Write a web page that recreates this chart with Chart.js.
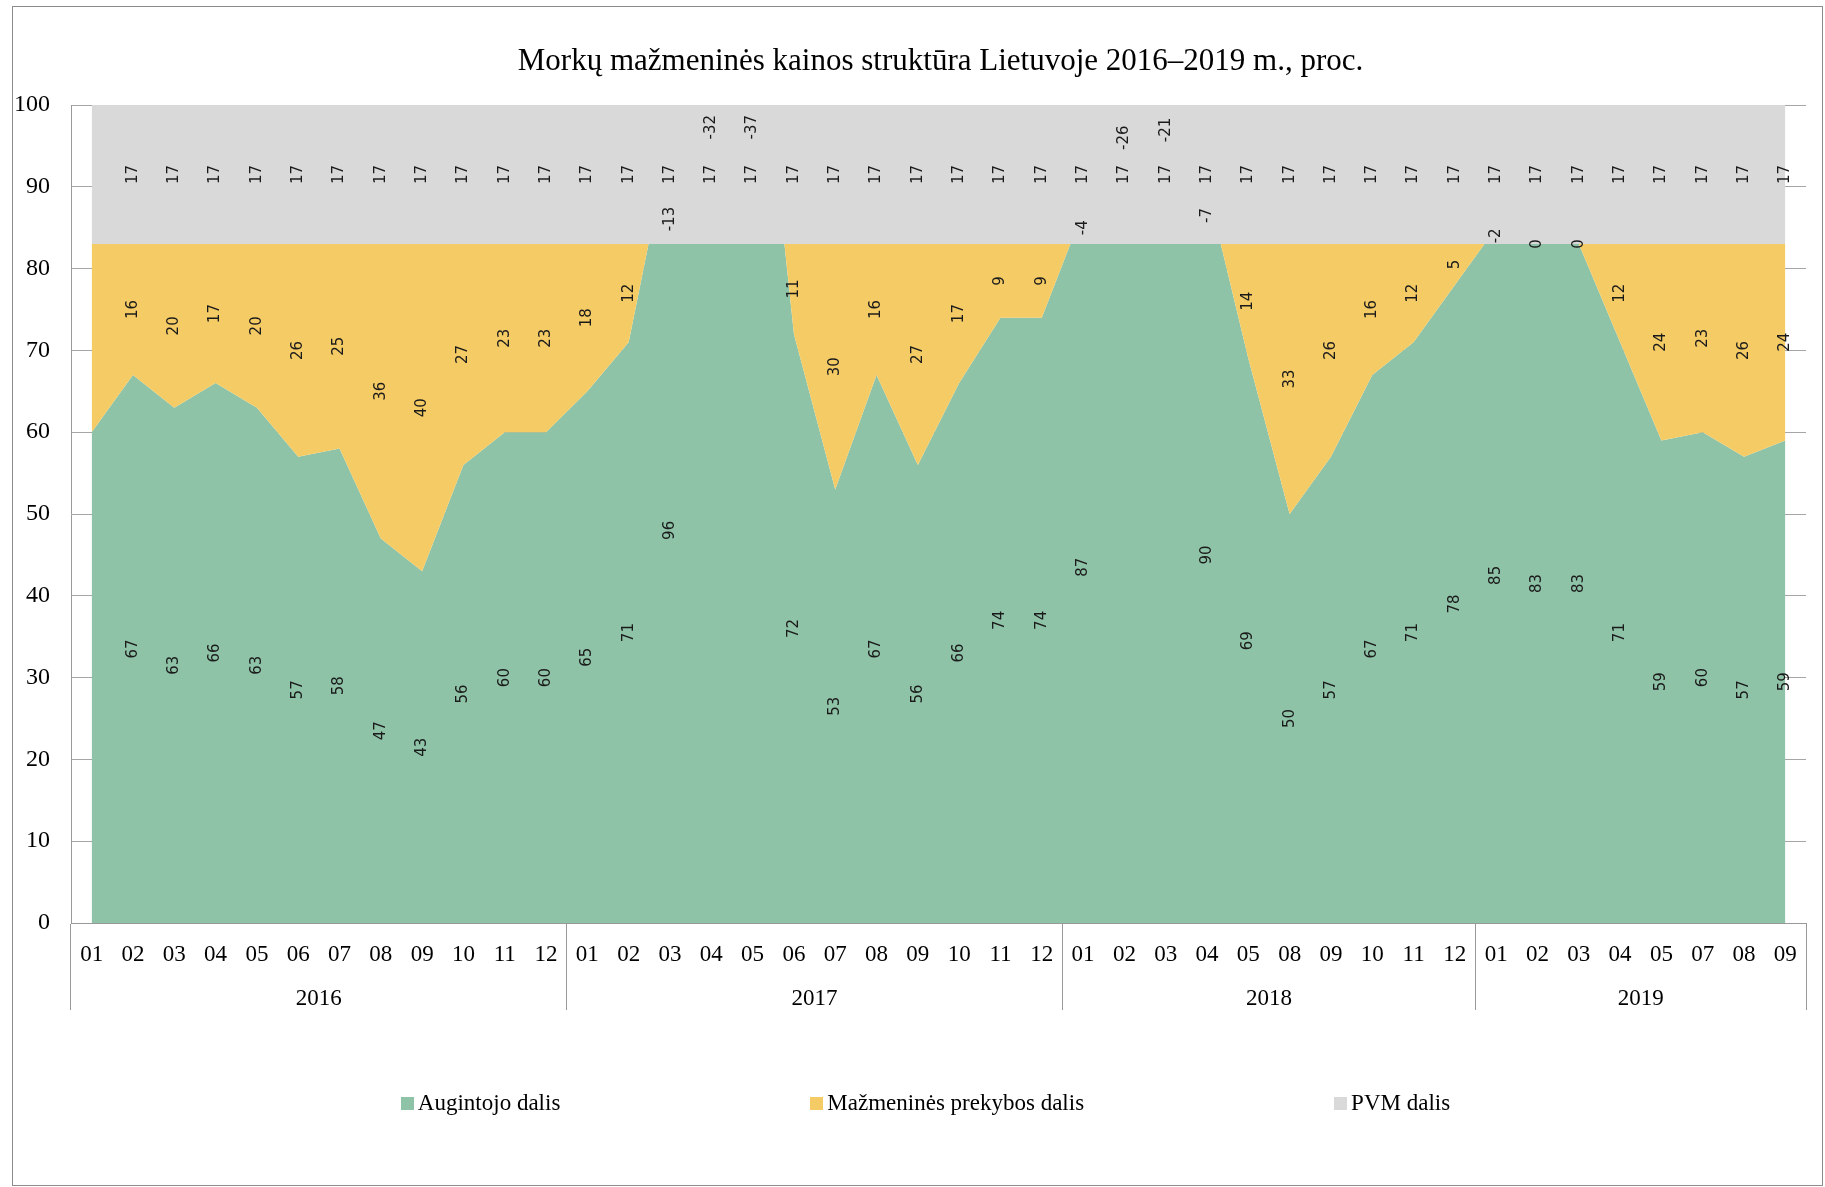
<!DOCTYPE html>
<html>
<head>
<meta charset="utf-8">
<title>Morkų mažmeninės kainos struktūra</title>
<script src="https://cdn.jsdelivr.net/npm/chart.js@4"></script>
<style>
  html, body { margin: 0; padding: 0; background: #fff; }
  canvas { display: block; }
</style>
</head>
<body>
<canvas id="chart" width="1825" height="1187"></canvas>
<script>
// Chart title and series names
const chartTitle = 'Morkų mažmeninės kainos struktūra Lietuvoje 2016–2019 m., proc.';
const seriesNames = ['Augintojo dalis', 'Mažmeninės prekybos dalis', 'PVM dalis'];

// Years and how many monthly observations each year has
const years = ['2016', '2017', '2018', '2019'];
const yearSpans = [12, 12, 10, 8];

// Month labels (category axis)
const months = [
  '01', '02', '03', '04', '05', '06', '07', '08', '09', '10', '11', '12',
  '01', '02', '03', '04', '05', '06', '07', '08', '09', '10', '11', '12',
  '01', '02', '03', '04', '05', '08', '09', '10', '11', '12',
  '01', '02', '03', '04', '05', '07', '08', '09'
];

// Grower share, %
const grower = [
  60, 67, 63, 66, 63, 57, 58, 47, 43, 56, 60, 60,
  65, 71, 96, 115, 120, 72, 53, 67, 56, 66, 74, 74,
  87, 109, 104, 90, 69, 50, 57, 67, 71, 78,
  85, 83, 83, 71, 59, 60, 57, 59
];

// Retail trade share, %
const retail = [
  23, 16, 20, 17, 20, 26, 25, 36, 40, 27, 23, 23,
  18, 12, -13, -32, -37, 11, 30, 16, 27, 17, 9, 9,
  -4, -26, -21, -7, 14, 33, 26, 16, 12, 5,
  -2, 0, 0, 12, 24, 23, 26, 24
];

// VAT share, %
const vat = [
  17, 17, 17, 17, 17, 17, 17, 17, 17, 17, 17, 17,
  17, 17, 17, 17, 17, 17, 17, 17, 17, 17, 17, 17,
  17, 17, 17, 17, 17, 17, 17, 17, 17, 17,
  17, 17, 17, 17, 17, 17, 17, 17
];

const colors = ['#8ec3a7', '#f5cb65', '#d9d9d9'];
const serif = '"Liberation Serif", "Times New Roman", serif';
const axisFontSize = 23;

// Stack the shares one on top of another (Excel-style single stack, negatives subtract)
const parts = [grower, retail, vat];
const stackTop = parts.map((_, d) =>
  months.map((_, i) => parts.slice(0, d + 1).reduce((s, arr) => s + arr[i], 0))
);

// Where each year starts on the category axis, and the middle of each year group
const yearStarts = [];
const yearMid = [];
yearSpans.reduce((start, n) => {
  yearStarts.push(start);
  yearMid.push(start + (n - 1) / 2);
  return start + n;
}, 0);

// White page with a thin frame around the whole chart
const framePlugin = {
  id: 'frame',
  beforeDraw(chart) {
    const c = chart.ctx;
    c.save();
    c.fillStyle = '#fff';
    c.fillRect(0, 0, chart.width, chart.height);
    c.strokeStyle = '#8c8c8c';
    c.lineWidth = 1;
    c.strokeRect(12.5, 6.5, chart.width - 15, chart.height - 8);
    c.restore();
  }
};

// Title centred over the plot area
const titlePlugin = {
  id: 'plotTitle',
  afterDraw(chart) {
    const c = chart.ctx;
    const a = chart.chartArea;
    c.save();
    c.font = '31px ' + serif;
    c.fillStyle = '#000';
    c.textAlign = 'center';
    c.textBaseline = 'middle';
    c.fillText(chartTitle, (a.left + a.right) / 2 + 2, 62);
    c.restore();
  }
};

// Vertical value labels in the middle of each stacked segment
const valueLabels = {
  id: 'valueLabels',
  afterDatasetsDraw(chart) {
    const c = chart.ctx;
    const a = chart.chartArea;
    const xs = chart.scales.x;
    const ys = chart.scales.y;
    c.save();
    c.font = '15px "DejaVu Sans", sans-serif';
    c.fillStyle = '#1a1a1a';
    c.textAlign = 'center';
    c.textBaseline = 'middle';

    const draw = (txt, px, py) => {
      c.save();
      c.translate(px, py);
      c.rotate(-Math.PI / 2);
      c.fillText(txt, 0, 0);
      c.restore();
    };

    months.forEach((_, i) => {
      if (i === 0) return;
      const px = xs.getPixelForValue(i);

      // VAT label: middle of the top segment
      const vTxt = String(vat[i]);
      const vHalf = c.measureText(vTxt).width / 2;
      const vY = ys.getPixelForValue(stackTop[1][i] + vat[i] / 2);

      // Grower label: middle of the bottom segment, hidden when off the scale
      if (grower[i] <= ys.max) {
        draw(String(grower[i]), px, ys.getPixelForValue(grower[i] / 2));
      }

      // Retail label: middle of its segment, moved aside when it would sit on the VAT label
      const rTxt = String(retail[i]);
      const rHalf = c.measureText(rTxt).width / 2;
      let rY = ys.getPixelForValue(grower[i] + retail[i] / 2);
      if (Math.abs(rY - vY) < rHalf + vHalf + 4) {
        if (rY >= vY) {
          rY = (vY + vHalf + ys.getPixelForValue(stackTop[1][i])) / 2 + 5;
        } else {
          rY = (vY - vHalf + a.top) / 2 - 5;
        }
      }
      rY = Math.max(a.top + rHalf + 10, Math.min(a.bottom - rHalf - 10, rY));
      draw(rTxt, px, rY);

      draw(vTxt, px, vY);
    });
    c.restore();
  }
};

// Legend row below the axis, items spread evenly
const legendRow = {
  id: 'legendRow',
  afterDraw(chart) {
    const c = chart.ctx;
    const a = chart.chartArea;
    c.save();
    c.font = axisFontSize + 'px ' + serif;
    c.textBaseline = 'middle';
    c.textAlign = 'left';
    const box = 13, gapText = 4, gap = 250;
    const items = chart.data.datasets.map(ds => ({
      text: ds.label,
      color: ds.backgroundColor,
      w: box + gapText + c.measureText(ds.label).width
    }));
    const total = items.reduce((s, it) => s + it.w, 0) + gap * (items.length - 1);
    let x = (a.left + a.right) / 2 - 13 - total / 2;
    const y = chart.scales.yr.bottom + 87;
    items.forEach(it => {
      c.fillStyle = it.color;
      c.fillRect(Math.round(x), Math.round(y - 7), box, box);
      c.fillStyle = '#000';
      c.fillText(it.text, x + box + gapText, y);
      x += it.w + gap;
    });
    c.restore();
  }
};

const separatorColor = ctx => {
  const i = ctx.index;
  if (i === undefined || i >= months.length || yearStarts.includes(i)) return '#999999';
  return 'rgba(0,0,0,0)';
};

new Chart(document.getElementById('chart'), {
  type: 'line',
  data: {
    labels: months,
    datasets: [
      {
        label: seriesNames[0], data: stackTop[0], backgroundColor: colors[0],
        borderColor: 'rgba(0,0,0,0)', borderWidth: 1, fill: 'origin', order: 3,
        pointRadius: 0, tension: 0, xAxisID: 'x', yAxisID: 'y'
      },
      {
        label: seriesNames[1], data: stackTop[1], backgroundColor: colors[1],
        borderColor: 'rgba(0,0,0,0)', borderWidth: 1, fill: '-1', order: 2,
        pointRadius: 0, tension: 0, xAxisID: 'x', yAxisID: 'y'
      },
      {
        label: seriesNames[2], data: stackTop[2], backgroundColor: colors[2],
        borderColor: 'rgba(0,0,0,0)', borderWidth: 1, fill: '-1', order: 1,
        pointRadius: 0, tension: 0, xAxisID: 'x', yAxisID: 'y'
      }
    ]
  },
  options: {
    responsive: false,
    animation: false,
    events: [],
    layout: { padding: { top: 105, right: 19, bottom: 170, left: 0 } },
    plugins: {
      legend: { display: false },
      title: { display: false },
      tooltip: { enabled: false }
    },
    scales: {
      x: {
        type: 'category',
        position: 'bottom',
        weight: 0,
        offset: true,
        grid: {
          offset: true,
          drawOnChartArea: false,
          tickLength: 87,
          color: separatorColor,
          lineWidth: 1
        },
        border: { display: true, color: '#999999' },
        ticks: {
          autoSkip: false, maxRotation: 0, minRotation: 0,
          padding: -69, color: '#000', font: { family: serif, size: axisFontSize }
        },
        afterFit(s) { s.height = 44; }
      },
      yr: {
        type: 'linear',
        position: 'bottom',
        weight: 1,
        min: -0.5,
        max: months.length - 0.5,
        grid: { display: false },
        border: { display: false },
        afterBuildTicks(s) { s.ticks = yearMid.map(v => ({ value: v })); },
        ticks: {
          autoSkip: false, maxRotation: 0, minRotation: 0,
          padding: 10, color: '#000', font: { family: serif, size: axisFontSize },
          callback: v => years[yearMid.indexOf(v)] || ''
        },
        afterFit(s) { s.height = 50; }
      },
      y: {
        min: 0,
        max: 100,
        grid: { color: '#a6a6a6', drawTicks: false, lineWidth: 1 },
        border: { display: true, color: '#999999' },
        ticks: {
          stepSize: 10, padding: 21, color: '#000',
          font: { family: serif, size: 24 }
        },
        afterFit(s) { s.width = 71; }
      }
    }
  },
  plugins: [framePlugin, valueLabels, titlePlugin, legendRow]
});
</script>
</body>
</html>
